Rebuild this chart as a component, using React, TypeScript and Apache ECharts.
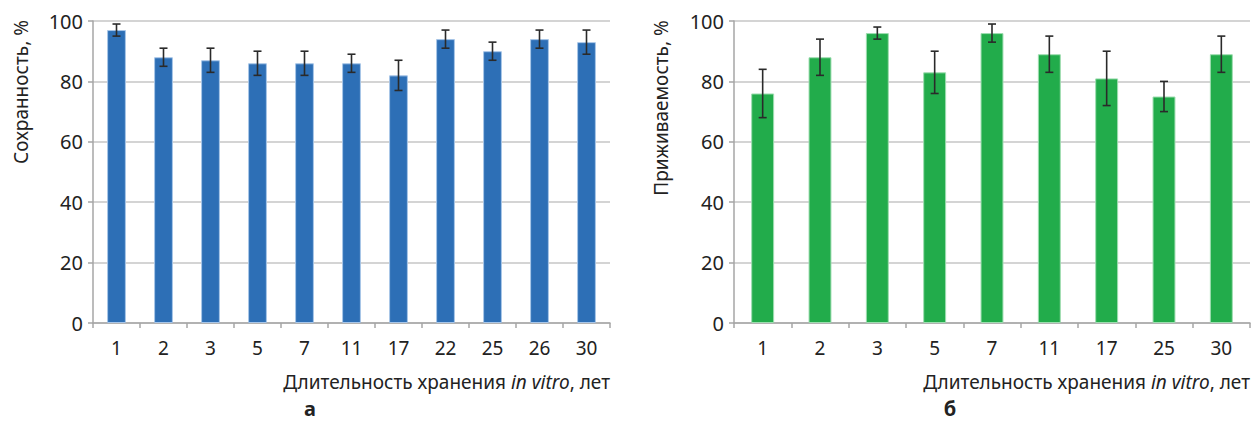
import React, { useEffect, useRef } from "react";
import * as echarts from "echarts";

const catsA = ["1", "2", "3", "5", "7", "11", "17", "22", "25", "26", "30"];
const valsA = [97, 88, 87, 86, 86, 86, 82, 94, 90, 94, 93];
const errA = [2, 3, 4, 4, 4, 3, 5, 3, 3, 3, 4];

const catsB = ["1", "2", "3", "5", "7", "11", "17", "25", "30"];
const valsB = [76, 88, 96, 83, 96, 89, 81, 75, 89];
const errB = [8, 6, 2, 7, 3, 6, 9, 5, 6];

const yTicks = [0, 20, 40, 60, 80, 100];

const FONT = "'Noto Sans', 'Open Sans', sans-serif";
const TXT = "#222";

function errRender(params: any, api: any) {
  const x = api.value(0);
  const lo = api.coord([x, api.value(1)]);
  const hi = api.coord([x, api.value(2)]);
  const w = 4;
  const style = { stroke: "#2a2a2a", lineWidth: 1.6 };
  return {
    type: "group",
    children: [
      { type: "line", shape: { x1: lo[0], y1: lo[1], x2: hi[0], y2: hi[1] }, style },
      { type: "line", shape: { x1: lo[0] - w, y1: lo[1], x2: lo[0] + w, y2: lo[1] }, style },
      { type: "line", shape: { x1: hi[0] - w, y1: hi[1], x2: hi[0] + w, y2: hi[1] }, style },
    ],
  };
}

function yAxis(gridIndex: number) {
  return {
    type: "value",
    gridIndex,
    min: yTicks[0],
    max: yTicks[yTicks.length - 1],
    interval: 20,
    axisLine: { show: true, lineStyle: { color: "#A6A6A6", width: 1.5 } },
    axisTick: { show: true, length: 5, lineStyle: { color: "#A6A6A6", width: 1.5 } },
    axisLabel: { color: TXT, fontSize: 20, fontFamily: FONT, margin: 10 },
    splitLine: { show: true, lineStyle: { color: "#C6C6C6", width: 1.5 } },
  };
}

function xAxis(gridIndex: number, data: string[]) {
  return {
    type: "category",
    gridIndex,
    data,
    axisLine: { show: true, lineStyle: { color: "#A6A6A6", width: 1.5 } },
    axisTick: { show: true, length: 5, lineStyle: { color: "#A6A6A6", width: 1.5 } },
    axisLabel: { color: TXT, fontSize: 19, fontFamily: FONT, margin: 15 },
    splitLine: { show: false },
  };
}

const xTitle = (x: number) => ({
  type: "text",
  x,
  y: 382,
  style: {
    text: "Длительность хранения {i|in vitro}, лет",
    fontSize: 19,
    fontFamily: FONT,
    fill: TXT,
    align: "right",
    verticalAlign: "middle",
    rich: { i: { fontStyle: "italic", fontSize: 19, fontFamily: FONT, fill: TXT } },
  },
});

const panelLabel = (x: number, text: string) => ({
  type: "text",
  x,
  y: 408,
  style: { text, fontSize: 20, fontWeight: "bold", fontFamily: FONT, fill: TXT, align: "center", verticalAlign: "middle" },
});

export default function App() {
  const ref = useRef<HTMLDivElement>(null);
  useEffect(() => {
    document.body.style.margin = "0";
    const chart = echarts.init(ref.current!, null, { renderer: "svg" });
    const option: any = {
      animation: false,
      backgroundColor: "#ffffff",
      grid: [
        { left: 93, right: 643, top: 21, bottom: 100 },
        { left: 734, right: 3, top: 21, bottom: 100 },
      ],
      xAxis: [xAxis(0, catsA), xAxis(1, catsB)],
      yAxis: [yAxis(0), yAxis(1)],
      series: [
        {
          type: "bar",
          xAxisIndex: 0,
          yAxisIndex: 0,
          data: valsA,
          barWidth: "40%",
          itemStyle: { color: "#2D6FB6", borderColor: "#A8C6E8", borderWidth: 1 },
        },
        {
          type: "custom",
          xAxisIndex: 0,
          yAxisIndex: 0,
          renderItem: errRender,
          data: valsA.map((v, i) => [i, v - errA[i], v + errA[i]]),
          z: 5,
        },
        {
          type: "bar",
          xAxisIndex: 1,
          yAxisIndex: 1,
          data: valsB,
          barWidth: "40%",
          itemStyle: { color: "#22AC4B", borderColor: "#9EDDB0", borderWidth: 1 },
        },
        {
          type: "custom",
          xAxisIndex: 1,
          yAxisIndex: 1,
          renderItem: errRender,
          data: valsB.map((v, i) => [i, v - errB[i], v + errB[i]]),
          z: 5,
        },
      ],
      graphic: [
        {
          type: "text",
          x: 21,
          y: 92,
          rotation: Math.PI / 2,
          style: { text: "Сохранность, %", fontSize: 19, fontFamily: FONT, fill: TXT, align: "center", verticalAlign: "middle" },
        },
        {
          type: "text",
          x: 661,
          y: 108,
          rotation: Math.PI / 2,
          style: { text: "Приживаемость, %", fontSize: 19, fontFamily: FONT, fill: TXT, align: "center", verticalAlign: "middle" },
        },
        xTitle(610),
        xTitle(1250),
        panelLabel(310, "а"),
        panelLabel(950, "б"),
      ],
    };
    chart.setOption(option);
    return () => chart.dispose();
  }, []);
  return <div ref={ref} style={{ width: 1253, height: 423 }} />;
}
